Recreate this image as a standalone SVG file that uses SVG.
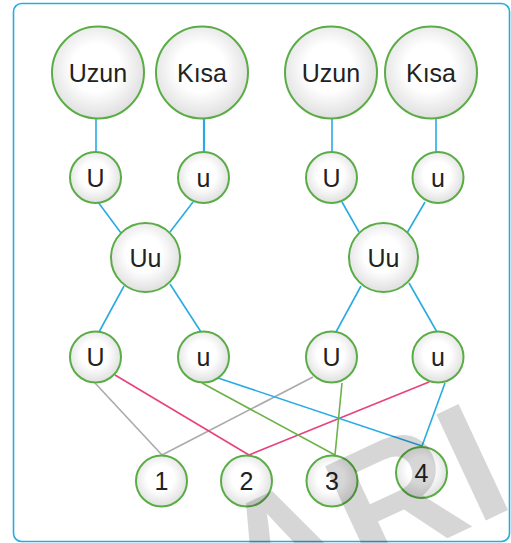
<svg xmlns="http://www.w3.org/2000/svg" width="511" height="543" viewBox="0 0 511 543">
<defs>
<radialGradient id="g" cx="0.48" cy="0.45" r="0.58">
<stop offset="0.45" stop-color="#ffffff"/>
<stop offset="1" stop-color="#dcdcdc"/>
</radialGradient>
<style>
.n{fill:url(#g);stroke:#5aad45;stroke-width:2}
.t{font-family:"Liberation Sans",Arial,sans-serif;font-size:25px;fill:#222;text-anchor:middle}
.c line{stroke-width:1.6;fill:none}
.b{stroke:#29abe2}
.gr{stroke:#6cb24a}
.p{stroke:#e8417e}
.y{stroke:#aaaaaa}
</style>
</defs>
<rect x="13.5" y="3.5" width="496" height="538" rx="8" fill="#fff" stroke="#29abe2" stroke-width="1.6"/>
<g id="connectors" class="c">
<line class="b" x1="96" y1="118" x2="96" y2="154"/>
<line class="b" x1="204" y1="118" x2="204" y2="154" style="stroke-width:2.2"/>
<line class="b" x1="332" y1="118" x2="332" y2="154"/>
<line class="b" x1="436" y1="118" x2="436" y2="154"/>
<line class="b" x1="98" y1="202" x2="121" y2="233"/>
<line class="b" x1="193" y1="202" x2="170" y2="232"/>
<line class="b" x1="342" y1="202" x2="359" y2="232"/>
<line class="b" x1="425" y1="202" x2="407" y2="233"/>
<line class="b" x1="124" y1="286" x2="99" y2="332"/>
<line class="b" x1="170" y1="284" x2="201" y2="332"/>
<line class="b" x1="361" y1="286" x2="336" y2="332"/>
<line class="b" x1="409" y1="283" x2="437" y2="332"/>
<line class="y" x1="95" y1="383" x2="162" y2="455"/>
<line class="y" x1="313" y1="377" x2="162" y2="455"/>
<line class="p" x1="115" y1="375" x2="249" y2="455"/>
<line class="p" x1="429" y1="382" x2="249" y2="455"/>
<line class="b" x1="218" y1="378" x2="422" y2="446"/>
<line class="b" x1="445" y1="383" x2="422" y2="446"/>
<line class="gr" x1="202" y1="383" x2="335" y2="455"/>
<line class="gr" x1="342" y1="383" x2="335" y2="455"/>
</g>
<g id="uzun1"><circle class="n" cx="98" cy="72.5" r="46"/><text class="t" x="98" y="81.5">Uzun</text></g>
<g id="kisa1"><circle class="n" cx="202" cy="72.5" r="46"/><text class="t" x="202" y="81.5">Kısa</text></g>
<g id="uzun2"><circle class="n" cx="331" cy="72.5" r="46"/><text class="t" x="331" y="81.5">Uzun</text></g>
<g id="kisa2"><circle class="n" cx="431" cy="72.5" r="46"/><text class="t" x="431" y="81.5">Kısa</text></g>
<g id="U1"><circle class="n" cx="95.5" cy="177.5" r="25.5"/><text class="t" x="95.5" y="186.5">U</text></g>
<g id="u1"><circle class="n" cx="203.5" cy="177.5" r="25.5"/><text class="t" x="203.5" y="186.5">u</text></g>
<g id="U2"><circle class="n" cx="331.5" cy="177.5" r="25.5"/><text class="t" x="331.5" y="186.5">U</text></g>
<g id="u2"><circle class="n" cx="438" cy="177.5" r="25.5"/><text class="t" x="438" y="186.5">u</text></g>
<g id="Uu1"><circle class="n" cx="145.5" cy="257.5" r="34.5"/><text class="t" x="145.5" y="266.5">Uu</text></g>
<g id="Uu2"><circle class="n" cx="383.5" cy="257.5" r="34.5"/><text class="t" x="383.5" y="266.5">Uu</text></g>
<g id="U3"><circle class="n" cx="95.5" cy="357" r="25.5"/><text class="t" x="95.5" y="366">U</text></g>
<g id="u3"><circle class="n" cx="203.5" cy="357" r="25.5"/><text class="t" x="203.5" y="366">u</text></g>
<g id="U4"><circle class="n" cx="331.5" cy="357" r="25.5"/><text class="t" x="331.5" y="366">U</text></g>
<g id="u4"><circle class="n" cx="438" cy="357" r="25.5"/><text class="t" x="438" y="366">u</text></g>
<g id="n1"><circle class="n" cx="161.5" cy="481" r="25.5"/><text class="t" x="161.5" y="490">1</text></g>
<g id="n2"><circle class="n" cx="246.5" cy="481" r="25.5"/><text class="t" x="246.5" y="490">2</text></g>
<g id="n3"><circle class="n" cx="332" cy="481" r="25.5"/><text class="t" x="332" y="490">3</text></g>
<g id="n4"><circle class="n" cx="421.5" cy="472.5" r="25.5"/><text class="t" x="421.5" y="481.5">4</text></g>
<text x="0" y="0" transform="translate(253,629) rotate(-25)" font-family="'Liberation Sans',Arial,sans-serif" font-weight="bold" font-size="170" fill="#000" fill-opacity="0.16">ARI</text>
</svg>
